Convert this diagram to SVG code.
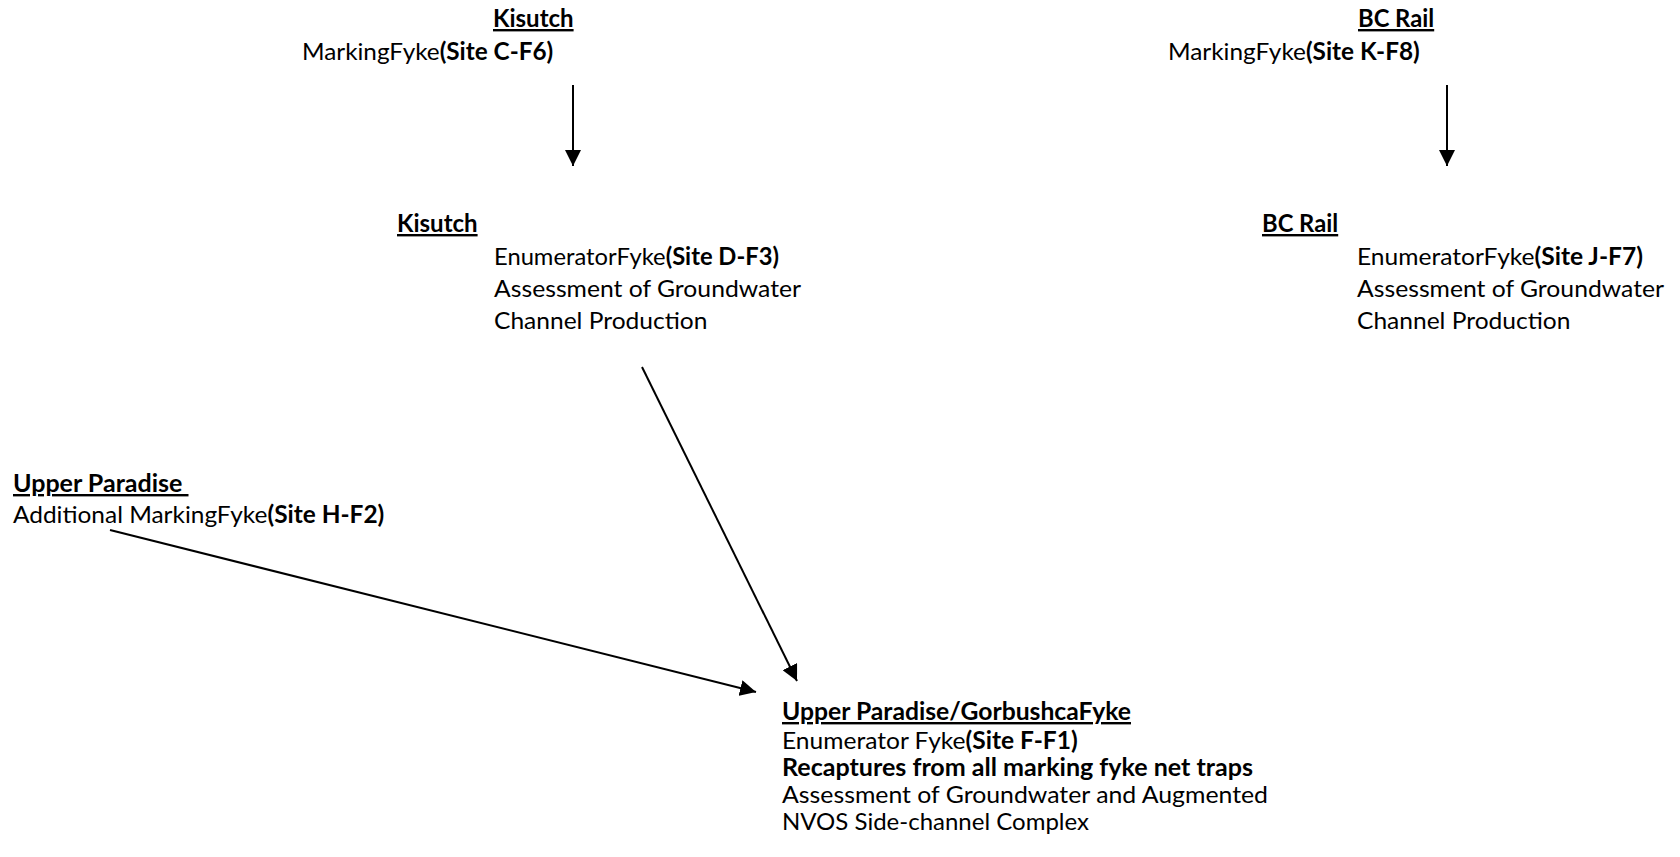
<svg xmlns="http://www.w3.org/2000/svg" width="1680" height="857" viewBox="0 0 1680 857">
<defs>
<style>
text { font-family: Lato, "Open Sans", "Liberation Sans", sans-serif; font-size: 24px; fill: #000; }
.b { font-weight: bold; }
.u { text-decoration: underline; }
.c { stroke: #000; stroke-width: 2; fill: none; marker-end: url(#ah); }
</style>
<marker id="ah" markerUnits="userSpaceOnUse" markerWidth="16" markerHeight="16" refX="16" refY="8" orient="auto" viewBox="0 0 16 16">
<path d="M0,0 L16,8 L0,16 Z" fill="#000"/>
</marker>
</defs>
<rect width="1680" height="857" fill="#fff"/>
<g id="connectors">
<path class="c" d="M573,85 L573,166"/>
<path class="c" d="M1447,85 L1447,166"/>
<path class="c" d="M642,367 L797,681"/>
<path class="c" d="M110,530 L756,692"/>
</g>
<g id="kisutch-marking">
<text class="b u" x="493" y="27" textLength="80.6" lengthAdjust="spacingAndGlyphs">Kisutch</text>
<text x="302" y="60" textLength="251.3" lengthAdjust="spacingAndGlyphs">MarkingFyke<tspan class="b">(Site C-F6)</tspan></text>
</g>
<g id="bcrail-marking">
<text class="b u" x="1358" y="27" textLength="76.2" lengthAdjust="spacingAndGlyphs">BC Rail</text>
<text x="1168" y="60" textLength="251.8" lengthAdjust="spacingAndGlyphs">MarkingFyke<tspan class="b">(Site K-F8)</tspan></text>
</g>
<g id="kisutch-enumerator">
<text class="b u" x="397" y="232" textLength="80.6" lengthAdjust="spacingAndGlyphs">Kisutch</text>
<text x="494" y="265" textLength="285" lengthAdjust="spacingAndGlyphs">EnumeratorFyke<tspan class="b">(Site D-F3)</tspan></text>
<text x="494" y="297" textLength="307" lengthAdjust="spacingAndGlyphs">Assessment of Groundwater</text>
<text x="494" y="329" textLength="213.4" lengthAdjust="spacingAndGlyphs">Channel Production</text>
</g>
<g id="bcrail-enumerator">
<text class="b u" x="1262" y="232" textLength="76.2" lengthAdjust="spacingAndGlyphs">BC Rail</text>
<text x="1357" y="265" textLength="286" lengthAdjust="spacingAndGlyphs">EnumeratorFyke<tspan class="b">(Site J-F7)</tspan></text>
<text x="1357" y="297" textLength="307" lengthAdjust="spacingAndGlyphs">Assessment of Groundwater</text>
<text x="1357" y="329" textLength="213.4" lengthAdjust="spacingAndGlyphs">Channel Production</text>
</g>
<g id="upper-paradise-marking">
<text class="b u" x="13" y="492" textLength="175.5" lengthAdjust="spacingAndGlyphs">Upper Paradise&#160;</text>
<text x="13" y="523" textLength="371.3" lengthAdjust="spacingAndGlyphs">Additional MarkingFyke<tspan class="b">(Site H-F2)</tspan></text>
</g>
<g id="upper-paradise-enumerator">
<text class="b u" x="782" y="720" textLength="349" lengthAdjust="spacingAndGlyphs">Upper Paradise/GorbushcaFyke</text>
<text x="782" y="749" textLength="295.7" lengthAdjust="spacingAndGlyphs">Enumerator Fyke<tspan class="b">(Site F-F1)</tspan></text>
<text class="b" x="782" y="776" textLength="471" lengthAdjust="spacingAndGlyphs">Recaptures from all marking fyke net traps</text>
<text x="782" y="803" textLength="486" lengthAdjust="spacingAndGlyphs">Assessment of Groundwater and Augmented</text>
<text x="782" y="830" textLength="307" lengthAdjust="spacingAndGlyphs">NVOS Side-channel Complex</text>
</g>
</svg>
